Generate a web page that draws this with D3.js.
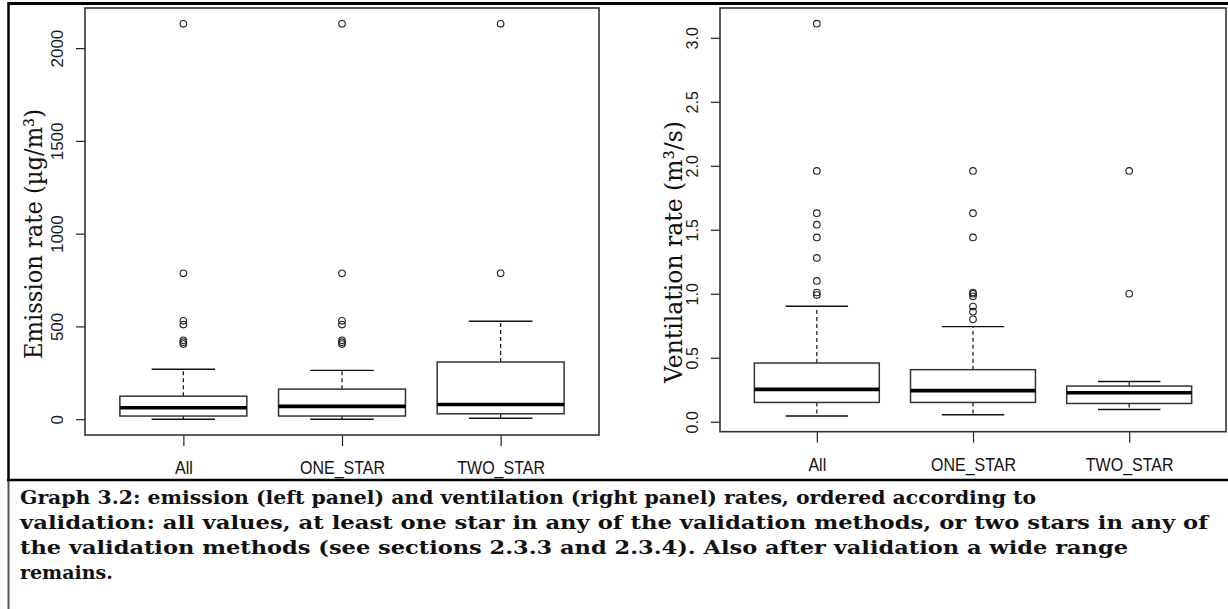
<!DOCTYPE html>
<html><head><meta charset="utf-8">
<script src="https://cdn.jsdelivr.net/npm/d3@7"></script>
<style>body{margin:0;background:#fff} svg{display:block}</style>
</head><body><svg id="c" width="1228" height="609"></svg>
<script>
// ---- data ----
const categories = ["All", "ONE_STAR", "TWO_STAR"];

const emissionLow = [0, 0, 5];
const emissionQ1 = [17, 17, 29];
const emissionMedian = [62, 69, 79];
const emissionQ3 = [124, 162, 308];
const emissionHigh = [269, 263, 528];
const emissionOutliers = [
  [2131, 786, 530, 510, 425, 415, 405],
  [2131, 786, 530, 510, 425, 415, 405],
  [2131, 786]
];
const emissionTicks = [0, 500, 1000, 1500, 2000];

const ventLow = [0.045, 0.055, 0.096];
const ventQ1 = [0.151, 0.151, 0.143];
const ventMedian = [0.253, 0.243, 0.227];
const ventQ3 = [0.459, 0.407, 0.279];
const ventHigh = [0.902, 0.743, 0.315];
const ventOutliers = [
  [3.11, 1.96, 1.63, 1.54, 1.44, 1.28, 1.10, 1.01, 0.99],
  [1.96, 1.63, 1.44, 1.01, 1.00, 0.98, 0.90, 0.86, 0.80],
  [1.96, 1.00]
];
const ventTicks = [0, 0.5, 1.0, 1.5, 2.0, 2.5, 3.0];

const captionLines = [
  "Graph 3.2: emission (left panel) and ventilation (right panel) rates, ordered according to",
  "validation: all values, at least one star in any of the validation methods, or two stars in any of",
  "the validation methods (see sections 2.3.3 and 2.3.4). Also after validation a wide range",
  "remains."
];

// ---- drawing ----
const svg = d3.select("#c");
const sans = "'Liberation Sans', Arial, sans-serif";
const serif = "'DejaVu Serif', 'Liberation Serif', serif";

function rExtent(vals) {
  const mn = d3.min(vals), mx = d3.max(vals), r = mx - mn;
  return [mn - 0.04 * r, mx + 0.04 * r];
}

function drawPanel(p) {
  const all = [].concat(p.low, p.high, ...p.outliers);
  const x = d3.scaleLinear().domain([0.38, 3.62]).range([p.left, p.right]);
  const y = d3.scaleLinear().domain(rExtent(all)).range([p.bottom, p.top]);
  const g = svg.append("g");

  // y axis
  const ya = g.append("g").attr("transform", `translate(${p.left},0)`)
    .call(d3.axisLeft(y).tickValues(p.ticks).tickSize(9).tickFormat(p.fmt));
  ya.select(".domain").remove();
  ya.selectAll(".tick line").attr("stroke", "#222").attr("stroke-width", 1.2);
  ya.selectAll(".tick text")
    .attr("transform", "rotate(-90)")
    .attr("x", 0).attr("y", -22).attr("dy", null)
    .attr("text-anchor", "middle")
    .attr("fill", "#1a1a1a")
    .style("font-family", sans).style("font-size", p.tickSize + "px");

  // x axis
  const xa = g.append("g").attr("transform", `translate(0,${p.bottom})`)
    .call(d3.axisBottom(x).tickValues([1, 2, 3]).tickSize(11).tickFormat((d, i) => categories[i]));
  xa.select(".domain").remove();
  xa.selectAll(".tick line").attr("stroke", "#222").attr("stroke-width", 1.2);
  xa.selectAll(".tick text")
    .attr("y", 0).attr("dy", null)
    .attr("transform", `translate(0,${p.labelBase}) scale(1,1.18)`)
    .attr("fill", "#111")
    .style("font-family", sans).style("font-size", "16px");

  // boxes
  categories.forEach((c, i) => {
    const cx = x(i + 1);
    const hw = x(1.4) - x(1);
    const cw = x(1.2) - x(1);
    const bg = g.append("g").attr("stroke", "#111").attr("fill", "none");
    bg.append("line").attr("x1", cx).attr("x2", cx).attr("y1", y(p.q3[i])).attr("y2", y(p.high[i]))
      .attr("stroke-width", 1.2).attr("stroke-dasharray", "4,3");
    bg.append("line").attr("x1", cx).attr("x2", cx).attr("y1", y(p.q1[i])).attr("y2", y(p.low[i]))
      .attr("stroke-width", 1.2).attr("stroke-dasharray", "4,3");
    bg.append("line").attr("x1", cx - cw).attr("x2", cx + cw).attr("y1", y(p.high[i])).attr("y2", y(p.high[i]))
      .attr("stroke-width", 1.4);
    bg.append("line").attr("x1", cx - cw).attr("x2", cx + cw).attr("y1", y(p.low[i])).attr("y2", y(p.low[i]))
      .attr("stroke-width", 1.4);
    bg.append("rect").attr("x", cx - hw).attr("width", 2 * hw)
      .attr("y", y(p.q3[i])).attr("height", y(p.q1[i]) - y(p.q3[i]))
      .attr("fill", "#fff").attr("stroke", "#333").attr("stroke-width", 1.5);
    bg.append("line").attr("x1", cx - hw).attr("x2", cx + hw).attr("y1", y(p.median[i])).attr("y2", y(p.median[i]))
      .attr("stroke", "#000").attr("stroke-width", 3.6);
    bg.selectAll("circle.o").data(p.outliers[i]).enter().append("circle")
      .attr("cx", cx).attr("cy", d => y(d)).attr("r", 3.3)
      .attr("stroke", "#222").attr("stroke-width", 1.1).attr("fill", "none");
  });

  // plot frame
  g.append("rect").attr("x", p.left).attr("y", p.top)
    .attr("width", p.right - p.left).attr("height", p.bottom - p.top)
    .attr("fill", "none").attr("stroke", "#333").attr("stroke-width", 1.6);

  // y title
  g.append("text").attr("transform", `translate(${p.titleX},${p.titleY}) rotate(-90)`)
    .attr("text-anchor", "middle")
    .attr("textLength", p.titleLen).attr("lengthAdjust", "spacingAndGlyphs")
    .style("font-family", serif).style("font-size", "25px").attr("fill", "#111")
    .text(p.title);
}

drawPanel({
  left: 85, right: 599, top: 8, bottom: 435,
  low: emissionLow, q1: emissionQ1, median: emissionMedian, q3: emissionQ3, high: emissionHigh,
  outliers: emissionOutliers, ticks: emissionTicks, fmt: d3.format("d"), tickSize: 17,
  labelBase: 39, title: "Emission rate (µg/m³)", titleX: 42, titleY: 234, titleLen: 250
});

drawPanel({
  left: 720, right: 1226, top: 8, bottom: 431.7,
  low: ventLow, q1: ventQ1, median: ventMedian, q3: ventQ3, high: ventHigh,
  outliers: ventOutliers, ticks: ventTicks, fmt: d3.format(".1f"), tickSize: 16,
  labelBase: 39, title: "Ventilation rate (m³/s)", titleX: 682, titleY: 252, titleLen: 262
});

// outer frame
svg.append("line").attr("x1", 8).attr("x2", 1228).attr("y1", 3.5).attr("y2", 3.5)
  .attr("stroke", "#000").attr("stroke-width", 3);
svg.append("line").attr("x1", 8.5).attr("x2", 8.5).attr("y1", 2).attr("y2", 480)
  .attr("stroke", "#000").attr("stroke-width", 2.5);
svg.append("line").attr("x1", 8.5).attr("x2", 8.5).attr("y1", 480).attr("y2", 609)
  .attr("stroke", "#555").attr("stroke-width", 2);
svg.append("line").attr("x1", 7).attr("x2", 1228).attr("y1", 480).attr("y2", 480)
  .attr("stroke", "#000").attr("stroke-width", 2.5);

// caption
const capLens = [1016, 1188, 1108, null];
svg.append("g").selectAll("text").data(captionLines).enter().append("text")
  .attr("x", 20).attr("y", (d, i) => 504 + i * 25)
  .attr("textLength", (d, i) => capLens[i])
  .attr("lengthAdjust", "spacingAndGlyphs")
  .style("font-family", "'DejaVu Serif', serif").style("font-weight", "bold").style("font-size", "19px")
  .attr("fill", "#111")
  .text(d => d);
</script></body></html>
